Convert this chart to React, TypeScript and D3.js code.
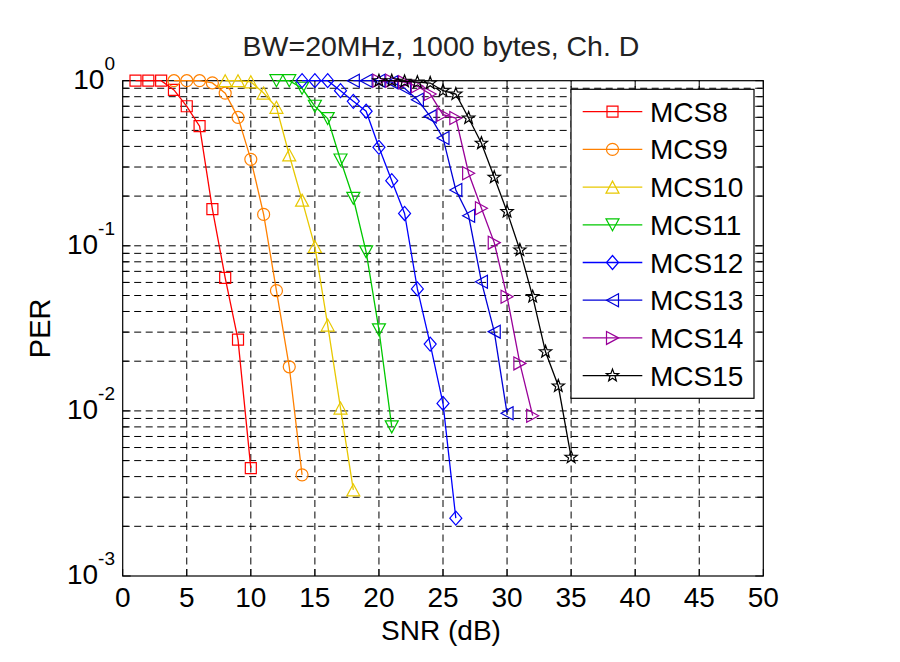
import React from 'react';
import * as d3 from 'd3';

// ---- data ----
const snrMCS8 = [1, 2, 3, 4, 5, 6, 7, 8, 9, 10];
const perMCS8 = [1, 1, 1, 0.88, 0.7, 0.53, 0.167, 0.064, 0.027, 0.0045];
const snrMCS9 = [4, 5, 6, 7, 8, 9, 10, 11, 12, 13, 14];
const perMCS9 = [1, 1, 1, 0.97, 0.84, 0.6, 0.334, 0.155, 0.0535, 0.0185, 0.0041];
const snrMCS10 = [8, 9, 10, 11, 12, 13, 14, 15, 16, 17, 18];
const perMCS10 = [1, 1, 0.985, 0.842, 0.69, 0.355, 0.189, 0.099, 0.0331, 0.0104, 0.00332];
const snrMCS11 = [12, 13, 14, 15, 16, 17, 18, 19, 20, 21];
const perMCS11 = [1, 1, 0.9, 0.7, 0.59, 0.331, 0.194, 0.092, 0.031, 0.008];
const snrMCS12 = [14, 15, 16, 17, 18, 19, 20, 21, 22, 23, 24, 25, 26];
const perMCS12 = [1, 1, 1, 0.87, 0.75, 0.653, 0.395, 0.248, 0.157, 0.0548, 0.0254, 0.0111, 0.00224];
const snrMCS13 = [18, 19, 20, 21, 22, 23, 24, 25, 26, 27, 28, 29, 30];
const perMCS13 = [1, 1, 1, 0.98, 0.9, 0.767, 0.608, 0.45, 0.218, 0.152, 0.0606, 0.0302, 0.00967];
const snrMCS14 = [20, 21, 22, 23, 24, 25, 26, 27, 28, 29, 30, 31, 32];
const perMCS14 = [1, 1, 0.98, 0.925, 0.83, 0.622, 0.594, 0.275, 0.169, 0.1045, 0.0492, 0.0194, 0.00935];
const snrMCS15 = [20, 21, 22, 23, 24, 25, 26, 27, 28, 29, 30, 31, 32, 33, 34, 35];
const perMCS15 = [1, 1, 0.99, 0.98, 0.968, 0.87, 0.83, 0.594, 0.418, 0.26, 0.161, 0.0943, 0.0492, 0.0228, 0.01415, 0.00524];

const seriesNames = ['MCS8', 'MCS9', 'MCS10', 'MCS11', 'MCS12', 'MCS13', 'MCS14', 'MCS15'];
const seriesSnr = [snrMCS8, snrMCS9, snrMCS10, snrMCS11, snrMCS12, snrMCS13, snrMCS14, snrMCS15];
const seriesPer = [perMCS8, perMCS9, perMCS10, perMCS11, perMCS12, perMCS13, perMCS14, perMCS15];
const seriesColors = ['#ff0000', '#ff8000', '#e8c800', '#00c800', '#0000ff', '#0000d8', '#990099', '#000000'];
const seriesMarkers = ['square', 'circle', 'triUp', 'triDown', 'diamond', 'triLeft', 'triRight', 'star'];

const xTicks = [0, 5, 10, 15, 20, 25, 30, 35, 40, 45, 50];
const yDecades = [-3, -2, -1, 0];
const titleText = 'BW=20MHz, 1000 bytes, Ch. D';
const xLabel = 'SNR (dB)';
const yLabel = 'PER';

const FONT = '"Liberation Sans", Arial, Helvetica, sans-serif';

const L = 122.7, R = 763.3, T = 80.7, B = 576;

function starPath(ro: number, ri: number) {
  const pts: string[] = [];
  for (let i = 0; i < 10; i++) {
    const r = i % 2 === 0 ? ro : ri;
    const a = -Math.PI / 2 + (i * Math.PI) / 5;
    pts.push(`${(r * Math.cos(a)).toFixed(2)},${(r * Math.sin(a)).toFixed(2)}`);
  }
  return 'M' + pts.join('L') + 'Z';
}

function Marker({ type, x, y, color }: { type: string; x: number; y: number; color: string }) {
  const common = { fill: 'none', stroke: color, strokeWidth: 1.2 };
  const tr = `translate(${x},${y})`;
  switch (type) {
    case 'square':
      return <path transform={tr} d="M-5.5,-5.5h11v11h-11Z" {...common} />;
    case 'circle':
      return <circle cx={x} cy={y} r={6} {...common} />;
    case 'triUp':
      return <path transform={tr} d="M0,-6L6.5,6L-6.5,6Z" {...common} />;
    case 'triDown':
      return <path transform={tr} d="M0,6L6.5,-6L-6.5,-6Z" {...common} />;
    case 'triLeft':
      return <path transform={tr} d="M-6,0L6,-6.5L6,6.5Z" {...common} />;
    case 'triRight':
      return <path transform={tr} d="M6,0L-6,-6.5L-6,6.5Z" {...common} />;
    case 'diamond':
      return <path transform={tr} d="M0,-7L6,0L0,7L-6,0Z" {...common} />;
    case 'star':
      return <path transform={tr} d={starPath(6.5, 2.7)} {...common} />;
    default:
      return null;
  }
}

export default function App() {
  const x = d3.scaleLinear().domain([0, 50]).range([L, R]);
  const y = d3.scaleLog().domain([1e-3, 1]).range([B, T]);

  const minorVals: number[] = [];
  for (let e = -3; e < 0; e++) {
    for (let m = 1; m <= 9; m++) {
      const v = m * Math.pow(10, e);
      if (v > 1e-3 && v < 1) minorVals.push(v);
    }
  }
  const allTicksY: number[] = [];
  for (let e = -3; e < 0; e++) for (let m = 1; m <= 9; m++) allTicksY.push(m * Math.pow(10, e));
  allTicksY.push(1);

  const line = d3
    .line<[number, number]>()
    .x((d) => x(d[0]))
    .y((d) => y(d[1]));

  const legX = 571, legY = 89.3, legW = 183, legH = 309;
  const rowY0 = 111.7, rowStep = 37.7;

  return (
    <svg
      width={900}
      height={662}
      style={{ position: 'absolute', left: 0, top: 0, background: '#fff' }}
      fontFamily={FONT}
    >
      <rect x={0} y={0} width={900} height={662} fill="#fff" />
      {/* title */}
      <text x={441} y={56} fontSize={28.5} textAnchor="middle" fill="#222">
        {titleText}
      </text>

      {/* grid */}
      <g stroke="#000" strokeWidth={1} strokeDasharray="7,4.5" fill="none">
        {xTicks
          .filter((t) => t > 0 && t < 50)
          .map((t) => (
            <line key={'gx' + t} x1={x(t)} x2={x(t)} y1={B} y2={T} />
          ))}
        {minorVals.map((v, i) => (
          <line key={'gy' + i} x1={L} x2={R} y1={y(v)} y2={y(v)} />
        ))}
      </g>

      {/* ticks */}
      <g stroke="#000" strokeWidth={1}>
        {xTicks.map((t) => (
          <g key={'tx' + t}>
            <line x1={x(t)} x2={x(t)} y1={B} y2={B - 7} />
            <line x1={x(t)} x2={x(t)} y1={T} y2={T + 7} />
          </g>
        ))}
        {allTicksY.map((v, i) => (
          <g key={'ty' + i}>
            <line x1={L} x2={L + (Number.isInteger(Math.log10(v)) ? 8 : 6)} y1={y(v)} y2={y(v)} />
            <line x1={R} x2={R - (Number.isInteger(Math.log10(v)) ? 8 : 6)} y1={y(v)} y2={y(v)} />
          </g>
        ))}
      </g>

      {/* axes box */}
      <rect x={L} y={T} width={R - L} height={B - T} fill="none" stroke="#000" strokeWidth={1.2} />

      {/* x tick labels */}
      {xTicks.map((t) => (
        <text key={'xl' + t} x={x(t)} y={606.5} fontSize={28} textAnchor="middle" fill="#000">
          {t}
        </text>
      ))}
      {/* y tick labels */}
      {yDecades.map((e) => (
        <text key={'yl' + e} x={115} y={y(Math.pow(10, e)) + 8} fontSize={28} textAnchor="end" fill="#000">
          10
          <tspan dy={-19} fontSize={19}>
            {String(e)}
          </tspan>
        </text>
      ))}

      {/* axis labels */}
      <text x={441} y={640} fontSize={28} textAnchor="middle" fill="#000">
        {xLabel}
      </text>
      <text
        transform={`translate(50,${(T + B) / 2}) rotate(-90)`}
        fontSize={29}
        textAnchor="middle"
        fill="#000"
      >
        {yLabel}
      </text>

      {/* series */}
      {seriesNames.map((name, si) => {
        const pts: [number, number][] = seriesSnr[si].map((s, i) => [s, seriesPer[si][i]]);
        return (
          <g key={name}>
            <path d={line(pts) || ''} fill="none" stroke={seriesColors[si]} strokeWidth={1.3} />
            {pts.map((p, i) => (
              <Marker key={i} type={seriesMarkers[si]} x={x(p[0])} y={y(p[1])} color={seriesColors[si]} />
            ))}
          </g>
        );
      })}

      {/* legend */}
      <rect x={legX} y={legY} width={legW} height={legH} fill="#fff" stroke="#000" strokeWidth={1.2} />
      {seriesNames.map((name, si) => {
        const ry = rowY0 + si * rowStep;
        return (
          <g key={'leg' + name}>
            <line x1={582.7} x2={642.3} y1={ry} y2={ry} stroke={seriesColors[si]} strokeWidth={1.3} />
            <Marker type={seriesMarkers[si]} x={612.5} y={ry} color={seriesColors[si]} />
            <text x={650} y={ry + 10} fontSize={28} fill="#000">
              {name}
            </text>
          </g>
        );
      })}
    </svg>
  );
}
